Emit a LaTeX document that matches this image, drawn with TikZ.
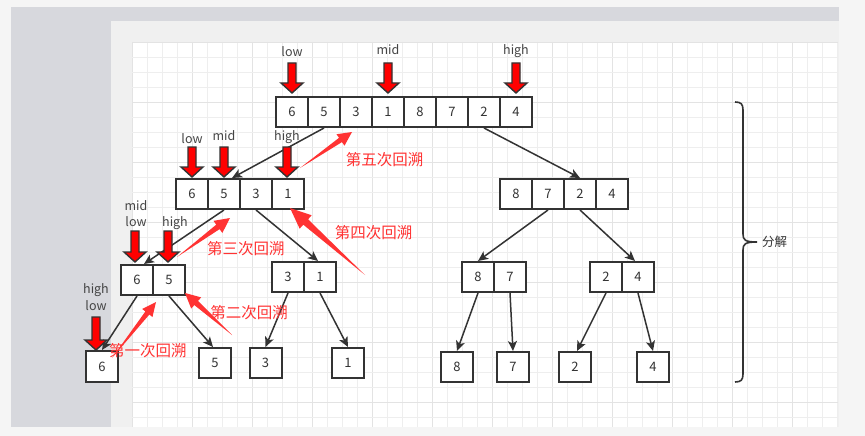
\documentclass[tikz,border=0pt]{standalone}
\usepackage{fontspec}
\setmainfont{Noto Sans CJK SC}
\usetikzlibrary{calc,arrows.meta}
\definecolor{ink}{HTML}{333333}
\definecolor{lblink}{HTML}{444444}
\definecolor{annred}{HTML}{FF3333}
\definecolor{blockred}{HTML}{FF0000}
\definecolor{texture}{HTML}{D7D8DD}
\definecolor{panelc}{HTML}{F0F0F0}
\definecolor{outerc}{HTML}{F5F5F5}
\definecolor{gridminor}{HTML}{EEEEEE}
\definecolor{gridmajor}{HTML}{E3E3E3}
\tikzset{
  cell/.style={draw=ink, line width=2pt, fill=white, minimum width=32pt, minimum height=30pt,
    inner sep=0pt, font=\fontsize{13}{13}\selectfont, text=ink},
  single/.style={cell, minimum height=31pt},
  conn/.style={draw=ink, line width=1.5pt, -{Stealth[length=10pt,width=9pt,inset=2.5pt]}},
  lbl/.style={font=\fontsize{12.5}{12.5}\selectfont, text=lblink, inner sep=0pt, anchor=base},
  anntext/.style={font=\fontsize{15.5}{15.5}\selectfont, text=annred, inner sep=0pt},
  blockarrow/.style={fill=blockred, draw=ink, line width=1.4pt, line join=miter},
  bracestyle/.style={draw=ink, line width=1.6pt},
}
\newcommand\blockarr[3]{% x, top, tip
  \filldraw[blockarrow] (#1-4,#2) -- (#1+4,#2) -- (#1+4,#3-10) -- (#1+11,#3-10) -- (#1,#3)
    -- (#1-11,#3-10) -- (#1-4,#3-10) -- cycle;}
\newcommand\annarr[5]{% tail, tip, head length, half head width, half shaft width
  \fill[annred] (#1) -- ($(#2)!#3!(#1)!#5!90:(#2)$) -- ($(#2)!#3!(#1)!#4!90:(#2)$) -- (#2)
    -- ($(#2)!#3!(#1)!#4!-90:(#2)$) -- ($(#2)!#3!(#1)!#5!-90:(#2)$) -- cycle;}
\begin{document}
\begin{tikzpicture}[x=1pt, y=-1pt]
\useasboundingbox (0,0) rectangle (865,436);
% background
\fill[outerc] (0,0) rectangle (865,436);
\fill[texture] (11,7) rectangle (839,427);
\fill[panelc] (111,21) rectangle (839,427);
\fill[white] (132,42) rectangle (838,427);
\foreach \i in {0,...,47} {
  \pgfmathtruncatemacro\m{mod(\i,4)}
  \ifnum\m=0 \draw[gridmajor, line width=0.9pt] (132+15*\i,42) -- (132+15*\i,427);
  \else \draw[gridminor, line width=0.9pt] (132+15*\i,42) -- (132+15*\i,427); \fi
}
\foreach \j in {0,...,25} {
  \pgfmathtruncatemacro\m{mod(\j,4)}
  \ifnum\m=0 \draw[gridmajor, line width=0.9pt] (132,42+15*\j) -- (838,42+15*\j);
  \else \draw[gridminor, line width=0.9pt] (132,42+15*\j) -- (838,42+15*\j); \fi
}

% top array
\foreach \v [count=\k from 0] in {6,5,3,1,8,7,2,4} {
  \pgfmathtruncatemacro\n{\k+1}
  \node[cell] (t\n) at (292+32*\k,112) {\v};
}
% level 2
\foreach \v [count=\k from 0] in {6,5,3,1} {
  \pgfmathtruncatemacro\n{\k+1}
  \node[cell] (l\n) at (192+32*\k,194) {\v};
}
\foreach \v [count=\k from 0] in {8,7,2,4} {
  \pgfmathtruncatemacro\n{\k+1}
  \node[cell] (r\n) at (516+32*\k,194) {\v};
}
% level 3
\node[cell] (ll1) at (137,280) {6};
\node[cell] (ll2) at (169,280) {5};
\node[cell] (lr1) at (288,277) {3};
\node[cell] (lr2) at (320,277) {1};
\node[cell] (rl1) at (478,277) {8};
\node[cell] (rl2) at (510,277) {7};
\node[cell] (rr1) at (606,277) {2};
\node[cell] (rr2) at (638,277) {4};
% level 4
\node[single] (s6) at (102,366.5) {6};
\node[single, minimum height=30pt] (s5) at (215,363) {5};
\node[single, minimum height=30pt] (s3) at (265.5,363) {3};
\node[single, minimum height=30pt] (s1) at (348,363) {1};
\node[cell] (s8) at (457,367) {8};
\node[cell] (s7) at (513,367) {7};
\node[cell] (s2) at (575,367) {2};
\node[cell] (s4) at (653,367) {4};

% connectors
\draw[conn] (t2.south) -- ([xshift=8pt]l2.north);
\draw[conn] (t7.south) -- (r3.north);
\draw[conn] (l2.south) -- ([xshift=7pt]ll1.north);
\draw[conn] (l3.south) -- ([xshift=-2pt]lr2.north);
\draw[conn] (ll1.south) -- (s6.north);
\draw[conn] (ll2.south) -- ([xshift=-2pt]s5.north);
\draw[conn] (lr1.south) -- (s3.north);
\draw[conn] (lr2.south) -- (s1.north);
\draw[conn] (r2.south) -- (rl1.north);
\draw[conn] (r3.south) -- ([xshift=-3pt]rr2.north);
\draw[conn] (rl1.south) -- (s8.north);
\draw[conn] (rl2.south) -- (s7.north);
\draw[conn] (rr1.south) -- ([xshift=2pt]s2.north);
\draw[conn] (rr2.south) -- (s4.north);

% pointer arrows and labels
\blockarr{292}{63}{93}
\blockarr{388}{63}{93}
\blockarr{516}{63}{93}
\node[lbl] (plow1) at (292,57) {low};
\node[lbl] (pmid1) at (388,55) {mid};
\node[lbl] (phigh1) at (516,55) {high};

\blockarr{192}{147}{177}
\blockarr{224}{147}{177}
\blockarr{287}{147}{177}
\node[lbl] (plow2) at (192,143) {low};
\node[lbl] (pmid2) at (224,140) {mid};
\node[lbl] (phigh2) at (287,140) {high};

\blockarr{135}{231}{262}
\blockarr{168}{231}{262}
\node[lbl] (pmid3) at (136,210) {mid};
\node[lbl] (plow3) at (136,226.5) {low};
\node[lbl] (phigh3) at (175,226.5) {high};

\blockarr{96}{317}{350}
\node[lbl] (phigh4) at (96,293) {high};
\node[lbl] (plow4) at (96,310) {low};

% annotation arrows
\coordinate (a5s) at (300,168); \coordinate (a5e) at (352,132);
\coordinate (a4s) at (365,275); \coordinate (a4e) at (290,208);
\coordinate (a3s) at (177,257); \coordinate (a3e) at (230,218);
\coordinate (a2s) at (232,335); \coordinate (a2e) at (185,293);
\coordinate (a1s) at (112,358); \coordinate (a1e) at (156,302);
\annarr{a5s}{a5e}{14pt}{7pt}{2.6pt}
\annarr{a4s}{a4e}{21pt}{9pt}{3.6pt}
\annarr{a3s}{a3e}{15pt}{7.5pt}{2.8pt}
\annarr{a2s}{a2e}{15pt}{7.5pt}{2.8pt}
\annarr{a1s}{a1e}{14pt}{6.5pt}{2.5pt}

\node[anntext] (n5) at (384.5,159.7) {第五次回溯};
\node[anntext] (n4) at (373.7,233) {第四次回溯};
\node[anntext] (n3) at (245.8,249) {第三次回溯};
\node[anntext] (n2) at (249,312.5) {第二次回溯};
\node[anntext] (n1) at (147.8,350.8) {第一次回溯};

% brace
\draw[bracestyle] (735,102) .. controls (741,102) and (743,104) .. (743,110)
  -- (743,234) .. controls (743,240) and (745,242) .. (757,242)
  .. controls (745,242) and (743,244) .. (743,250)
  -- (743,374) .. controls (743,380) and (741,382) .. (735,382);
\node[font=\fontsize{12.5}{12.5}\selectfont, text=ink, inner sep=0pt] (fenjie) at (774.5,242) {分解};
\end{tikzpicture}
\end{document}
